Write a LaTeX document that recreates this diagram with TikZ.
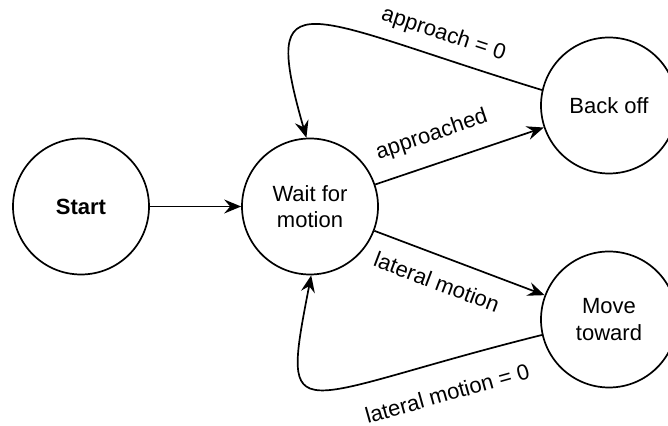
\documentclass[tikz,border=0pt]{standalone}
\usepackage{fontspec}
\setmainfont{Liberation Sans}
\usepackage{tikz}
\usetikzlibrary{automata,positioning,arrows.meta}

\begin{document}
\begin{tikzpicture}[shorten >=0pt,node distance=114.5pt,on grid,
    font=\fontsize{11}{13.3}\selectfont,line width=0.85pt,
    >={Stealth[length=8.5pt,width=7pt,inset=3pt]},
    every state/.style={draw,line width=0.85pt,minimum size=68pt,inner sep=0pt,align=center}]
	\useasboundingbox (-40.5pt,-109.75pt) rectangle (293.5pt,103.25pt);

	\node[state] (start) {\textbf{Start}};
	\node[state] (wait) [right=of start] {Wait for\\motion};
	\node[state] (back) [above right=50.5pt and 149.5pt of wait] {Back off};
	\node[state] (move) [below right=56.5pt and 149.5pt of wait] {Move\\toward};

    \path[->]
    	(start) edge (wait)

    	(wait) edge node[pos=0.39,above,sloped,inner sep=8.7pt] {approached} (back)
    	       edge node[pos=0.42,below,sloped,inner sep=8.4pt] {lateral motion} (move)

    	(back.167) edge[out=163,in=106,out distance=125pt,in distance=85pt]
    		node[pos=0.17,above,sloped,inner sep=5.8pt] {approach = 0} (wait.93)

    	(move.193) edge[out=194,in=-101,out distance=130pt,in distance=82pt]
    		node[pos=0.16,below,sloped,inner sep=11.5pt] {lateral motion = 0} (wait.-89);

\end{tikzpicture}
\end{document}
